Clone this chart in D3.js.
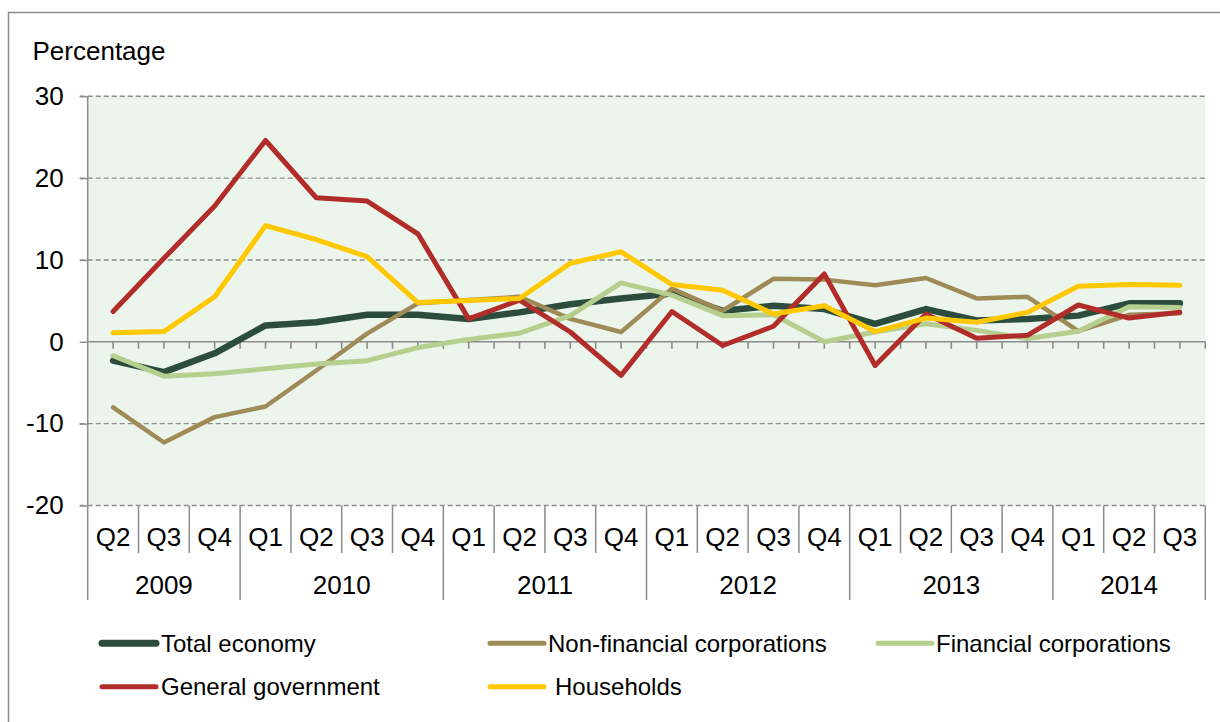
<!DOCTYPE html>
<html>
<head>
<meta charset="utf-8">
<script src="https://cdn.jsdelivr.net/npm/d3@7"></script>
<style>
  html, body { margin: 0; padding: 0; background: #ffffff; }
  svg { display: block; font-family: "Liberation Sans", Arial, sans-serif; }
</style>
</head>
<body>
<svg id="chart" width="1220" height="722"></svg>
<script>
// Quarterly periods, 2009 Q2 to 2014 Q3
const years = ["2009", "2010", "2011", "2012", "2013", "2014"];
const quarterLabels = ["Q2", "Q3", "Q4",
  "Q1", "Q2", "Q3", "Q4",
  "Q1", "Q2", "Q3", "Q4",
  "Q1", "Q2", "Q3", "Q4",
  "Q1", "Q2", "Q3", "Q4",
  "Q1", "Q2", "Q3"];
const quarterYears = ["2009", "2009", "2009",
  "2010", "2010", "2010", "2010",
  "2011", "2011", "2011", "2011",
  "2012", "2012", "2012", "2012",
  "2013", "2013", "2013", "2013",
  "2014", "2014", "2014"];

// Annual growth, percentage
const totalEconomy = [-2.3, -3.7, -1.4, 2.0, 2.4, 3.3, 3.3, 2.8, 3.6, 4.6, 5.3, 5.9, 3.8, 4.4, 4.0, 2.2, 4.0, 2.6, 2.8, 3.2, 4.7, 4.7];
const nonFinancial = [-8.0, -12.3, -9.2, -7.9, -3.5, 1.0, 4.7, 5.1, 5.5, 2.8, 1.2, 6.5, 3.8, 7.7, 7.6, 6.9, 7.8, 5.3, 5.5, 1.3, 3.3, 3.5];
const financial = [-1.7, -4.2, -3.9, -3.3, -2.7, -2.3, -0.7, 0.3, 1.05, 3.2, 7.2, 5.7, 3.2, 3.3, 0.0, 1.2, 2.2, 1.4, 0.4, 1.3, 4.3, 4.2];
const generalGov = [3.7, 10.2, 16.6, 24.6, 17.6, 17.2, 13.2, 2.8, 5.1, 1.2, -4.1, 3.7, -0.45, 1.9, 8.3, -2.9, 3.4, 0.45, 0.8, 4.5, 2.9, 3.6];
const households = [1.1, 1.25, 5.5, 14.2, 12.5, 10.4, 4.8, 5.05, 5.3, 9.6, 11.0, 7.0, 6.3, 3.4, 4.4, 1.25, 2.9, 2.4, 3.6, 6.8, 7.0, 6.9];

const yTicks = [-20, -10, 0, 10, 20, 30];

const seriesNames = ["Total economy", "Non-financial corporations", "Financial corporations", "General government", "Households"];
const seriesColors = ["#2c4d3d", "#9e8b57", "#b6ce8e", "#b12d2a", "#ffc800"];
const seriesWidths = [6.5, 4.5, 5, 5, 5];
const seriesValues = [totalEconomy, nonFinancial, financial, generalGov, households];

const periods = quarterLabels.map((q, i) => quarterYears[i] + " " + q);

const svg = d3.select("#chart");
const gridColor = "#8c8c8c";

const plotLeft = 87.7, plotRight = 1205.3, plotTop = 96.3, plotBottom = 505.5;

const x = d3.scaleBand().domain(periods).range([plotLeft, plotRight]).padding(0);
const y = d3.scaleLinear().domain([-20, 30]).range([plotBottom, plotTop]);
const bw = x.bandwidth();

// outer frame
svg.append("rect")
  .attr("x", 8.5).attr("y", 12.5)
  .attr("width", 1230).attr("height", 730)
  .attr("fill", "none").attr("stroke", gridColor).attr("stroke-width", 1.5);

// plot background
svg.append("rect")
  .attr("x", plotLeft).attr("y", plotTop)
  .attr("width", plotRight - plotLeft).attr("height", plotBottom - plotTop)
  .attr("fill", "#ecf5ec");

// horizontal dashed gridlines
svg.append("g").selectAll("line")
  .data(yTicks.filter(t => t !== 0))
  .join("line")
  .attr("x1", plotLeft - 8).attr("x2", plotRight)
  .attr("y1", d => y(d)).attr("y2", d => y(d))
  .attr("stroke", gridColor).attr("stroke-width", 1.4)
  .attr("stroke-dasharray", "5,3");

// y axis (plain hyphen for negative values)
const yAxis = svg.append("g")
  .attr("transform", `translate(${plotLeft},0)`)
  .call(d3.axisLeft(y).tickValues(yTicks).tickSize(8).tickPadding(16).tickFormat(d => String(d)));
yAxis.select(".domain").remove();
yAxis.selectAll(".tick line").attr("stroke", gridColor).attr("stroke-width", 1.4);
yAxis.selectAll(".tick text")
  .attr("fill", "#000").attr("font-size", 26)
  .attr("font-family", "'Liberation Sans', Arial, sans-serif");

// vertical axis line, continuing down through the category area
svg.append("line")
  .attr("x1", plotLeft).attr("x2", plotLeft)
  .attr("y1", plotTop).attr("y2", 600)
  .attr("stroke", gridColor).attr("stroke-width", 1.5);

// zero line with half-period tick marks
svg.append("line")
  .attr("x1", plotLeft).attr("x2", plotRight)
  .attr("y1", y(0)).attr("y2", y(0))
  .attr("stroke", gridColor).attr("stroke-width", 1.6);
const zeroTicks = [];
periods.forEach(p => { zeroTicks.push(x(p)); zeroTicks.push(x(p) + bw / 2); });
zeroTicks.push(plotRight);
svg.append("g").selectAll("line")
  .data(zeroTicks.slice(1))
  .join("line")
  .attr("x1", d => d).attr("x2", d => d)
  .attr("y1", y(0)).attr("y2", y(0) + 7)
  .attr("stroke", gridColor).attr("stroke-width", 1.6);

// category separators: quarters and years
const yearStart = new Set();
periods.forEach((p, i) => { if (i > 0 && quarterYears[i] !== quarterYears[i - 1]) yearStart.add(i); });
const sep = svg.append("g");
periods.forEach((p, i) => {
  if (i === 0) return;
  sep.append("line")
    .attr("x1", x(p)).attr("x2", x(p))
    .attr("y1", plotBottom).attr("y2", yearStart.has(i) ? 600 : 553)
    .attr("stroke", gridColor).attr("stroke-width", 1.5);
});
sep.append("line")
  .attr("x1", plotRight).attr("x2", plotRight)
  .attr("y1", plotBottom).attr("y2", 600)
  .attr("stroke", gridColor).attr("stroke-width", 1.5);

// quarter labels
svg.append("g").selectAll("text")
  .data(periods)
  .join("text")
  .attr("x", d => x(d) + bw / 2)
  .attr("y", 546)
  .attr("text-anchor", "middle")
  .attr("font-size", 26)
  .text((d, i) => quarterLabels[i]);

// year labels centred under their quarters
svg.append("g").selectAll("text")
  .data(years)
  .join("text")
  .attr("x", yr => {
    const ps = periods.filter((p, i) => quarterYears[i] === yr);
    return (x(ps[0]) + x(ps[ps.length - 1]) + bw) / 2;
  })
  .attr("y", 593.5)
  .attr("text-anchor", "middle")
  .attr("font-size", 26)
  .text(d => d);

// unit label
svg.append("text")
  .attr("x", 32.5).attr("y", 60)
  .attr("font-size", 26)
  .text("Percentage");

// series lines
const line = d3.line()
  .x((d, i) => x(periods[i]) + bw / 2)
  .y(d => y(d));

svg.append("g").selectAll("path")
  .data(seriesValues)
  .join("path")
  .attr("d", d => line(d))
  .attr("fill", "none")
  .attr("stroke", (d, i) => seriesColors[i])
  .attr("stroke-width", (d, i) => seriesWidths[i])
  .attr("stroke-linejoin", "round")
  .attr("stroke-linecap", "round");

// legend
const legendPos = [
  { x: 102, y: 643.3, tx: 161 },
  { x: 490, y: 643.3, tx: 548 },
  { x: 878, y: 643.3, tx: 936 },
  { x: 102, y: 686.7, tx: 161 },
  { x: 490, y: 686.7, tx: 555 }
];
const legend = svg.append("g");
seriesNames.forEach((name, i) => {
  const p = legendPos[i];
  legend.append("line")
    .attr("x1", p.x).attr("x2", p.x + 54)
    .attr("y1", p.y).attr("y2", p.y)
    .attr("stroke", seriesColors[i])
    .attr("stroke-width", i === 0 ? 7 : 5)
    .attr("stroke-linecap", "round");
  legend.append("text")
    .attr("x", p.tx).attr("y", p.y + 8.6)
    .attr("font-size", 24)
    .text(name);
});
</script>
</body>
</html>
